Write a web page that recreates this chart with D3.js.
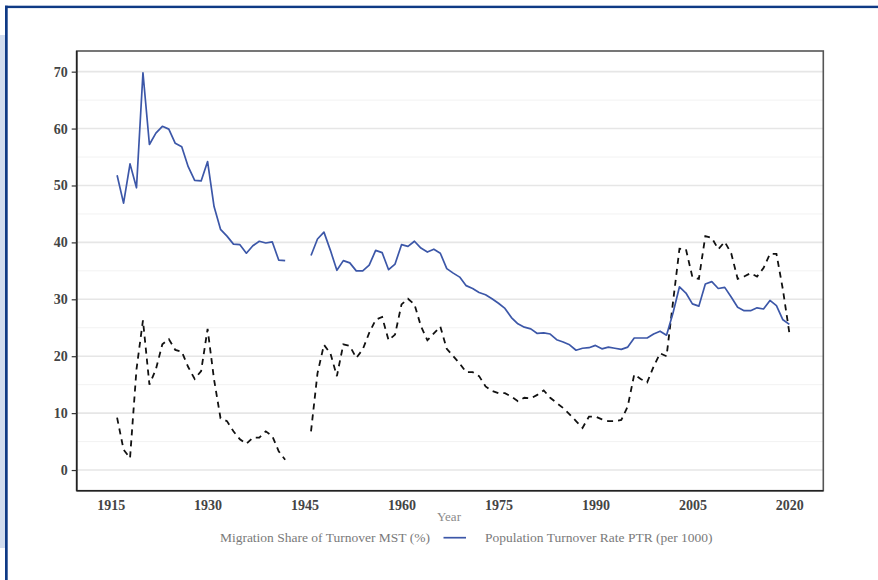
<!DOCTYPE html>
<html>
<head>
<meta charset="utf-8">
<script src="https://cdn.jsdelivr.net/npm/d3@7"></script>
<style>
  html, body { margin: 0; padding: 0; background: #fff; }
  svg { display: block; }
</style>
</head>
<body>
<svg id="chart" width="878" height="580"></svg>
<script>
// ---- data ----
const years = d3.range(1915, 2021);
// Population Turnover Rate PTR (per 1000); null = missing
const ptr = [
  null, 51.8, 46.9, 53.8, 49.6, 69.8, 57.2, 59.2, 60.4, 59.9,   // 1915-1924
  57.4, 56.8, 53.3, 50.9, 50.8, 54.2, 46.3, 42.3, 41.1, 39.7,   // 1925-1934
  39.6, 38.1, 39.4, 40.2, 39.9, 40.1, 36.9, 36.8, null, null,   // 1935-1944
  null, 37.7, 40.6, 41.8, 38.6, 35.1, 36.8, 36.4, 35.0, 35.0,   // 1945-1954
  36.0, 38.6, 38.2, 35.2, 36.2, 39.6, 39.3, 40.2, 39.0, 38.3,   // 1955-1964
  38.8, 38.1, 35.4, 34.6, 33.9, 32.4, 31.9, 31.2, 30.8, 30.1,   // 1965-1974
  29.3, 28.4, 26.8, 25.7, 25.1, 24.8, 24.0, 24.1, 23.9, 22.9,   // 1975-1984
  22.5, 22.0, 21.05, 21.4, 21.5, 21.9, 21.3, 21.6, 21.4, 21.2, // 1985-1994
  21.6, 23.2, 23.2, 23.2, 23.9, 24.4, 23.7, 27.6, 32.2, 31.1,   // 1995-2004
  29.2, 28.8, 32.7, 33.1, 31.9, 32.1, 30.4, 28.6, 28.0, 28.0,   // 2005-2014
  28.5, 28.3, 29.8, 28.9, 26.4, 25.6                            // 2015-2020
];
// Migration Share of Turnover MST (%)
const mst = [
  null, 9.2, 3.6, 2.1, 17.7, 26.3, 15.0, 17.7, 22.1, 23.0,      // 1915-1924
  21.1, 20.8, 18.1, 16.0, 17.4, 24.8, 15.9, 9.1, 8.6, 6.8,      // 1925-1934
  5.4, 4.6, 5.7, 5.7, 6.8, 6.0, 3.3, 1.8, null, null,           // 1935-1944
  null, 6.8, 17.0, 22.0, 20.5, 16.5, 22.1, 21.8, 19.7, 21.2,    // 1945-1954
  24.1, 26.4, 26.9, 22.8, 23.8, 29.1, 30.1, 29.1, 25.3, 22.8,   // 1955-1964
  24.0, 25.2, 21.3, 20.0, 18.7, 17.2, 17.2, 16.5, 14.7, 13.9,   // 1965-1974
  13.5, 13.5, 12.9, 12.1, 12.7, 12.6, 13.2, 14.0, 12.7, 11.8,   // 1975-1984
  10.9, 9.8, 8.6, 7.4, 9.4, 9.4, 8.9, 8.6, 8.6, 8.8,            // 1985-1994
  11.2, 16.8, 16.0, 15.4, 18.2, 20.5, 20.0, 29.5, 38.9, 38.8,   // 1995-2004
  33.9, 33.6, 41.1, 40.8, 38.8, 40.1, 38.1, 33.6, 34.0, 34.6,   // 2005-2014
  34.0, 35.5, 38.0, 38.0, 31.7, 24.1                            // 2015-2020
];
const xTicks = [1915, 1930, 1945, 1960, 1975, 1990, 2005, 2020];
const yTicks = [0, 10, 20, 30, 40, 50, 60, 70];
const yMinor = [5, 15, 25, 35, 45, 55, 65];
const seriesNames = ["Migration Share of Turnover MST (%)", "Population Turnover Rate PTR (per 1000)"];
const xTitle = "Year";

// ---- layout ----
const svg = d3.select("#chart");
const panel = { left: 76.7, right: 823.3, top: 51, bottom: 490.7 };
const serif = "'Liberation Serif', 'DejaVu Serif', serif";

// decorative frame
svg.append("rect").attr("x", 0).attr("y", 35).attr("width", 5).attr("height", 513).attr("fill", "#d2ddef");
svg.append("rect").attr("x", 5).attr("y", 5.7).attr("width", 880).attr("height", 2.4).attr("fill", "#0f3a85");
svg.append("rect").attr("x", 5).attr("y", 5.7).attr("width", 2.7).attr("height", 580).attr("fill", "#0f3a85");

const x = d3.scaleLinear().domain([1909.75, 2025.25]).range([panel.left, panel.right]);
const y = d3.scaleLinear().domain([-3.63, 73.63]).range([panel.bottom, panel.top]);

const g = svg.append("g");
// minor grid
g.selectAll(".minor").data(yMinor).enter().append("line")
  .attr("x1", panel.left).attr("x2", panel.right)
  .attr("y1", d => y(d)).attr("y2", d => y(d))
  .attr("stroke", "#f2f2f2").attr("stroke-width", 1);
// major grid
g.selectAll(".major").data(yTicks).enter().append("line")
  .attr("x1", panel.left).attr("x2", panel.right)
  .attr("y1", d => y(d)).attr("y2", d => y(d))
  .attr("stroke", "#e6e6e6").attr("stroke-width", 1.6);

// lines
const line = d3.line()
  .defined(d => d[1] !== null)
  .x(d => x(d[0])).y(d => y(d[1]));

g.append("path")
  .datum(years.map((yr, i) => [yr, mst[i]]))
  .attr("d", line).attr("fill", "none")
  .attr("stroke", "#111").attr("stroke-width", 1.8)
  .attr("stroke-dasharray", "6,5");

g.append("path")
  .datum(years.map((yr, i) => [yr, ptr[i]]))
  .attr("d", line).attr("fill", "none")
  .attr("stroke", "#3c57a8").attr("stroke-width", 1.7)
  .attr("stroke-linejoin", "round");

// panel border
svg.append("rect")
  .attr("x", panel.left).attr("y", panel.top)
  .attr("width", panel.right - panel.left).attr("height", panel.bottom - panel.top)
  .attr("fill", "none").attr("stroke", "#555").attr("stroke-width", 1.6);
svg.append("line").attr("x1", panel.left).attr("x2", panel.left)
  .attr("y1", panel.top).attr("y2", panel.bottom).attr("stroke", "#222").attr("stroke-width", 1.6);
svg.append("line").attr("x1", panel.left).attr("x2", panel.right)
  .attr("y1", panel.bottom).attr("y2", panel.bottom).attr("stroke", "#222").attr("stroke-width", 1.6);

// y axis
const yAxis = d3.axisLeft(y).tickValues(yTicks).tickSize(5).tickPadding(4);
const ya = svg.append("g").attr("transform", `translate(${panel.left},0)`).call(yAxis);
ya.attr("font-family", serif).attr("font-size", 14);
ya.select(".domain").remove();
ya.selectAll(".tick line").attr("stroke", "#333").attr("stroke-width", 1.2);
ya.selectAll(".tick text")
  .attr("font-family", serif)
  .attr("font-weight", "bold").attr("font-size", 14).attr("fill", "#444");

// x axis
const xAxis = d3.axisBottom(x).tickValues(xTicks).tickFormat(d3.format("d")).tickSize(0).tickPadding(9);
const xa = svg.append("g").attr("transform", `translate(0,${panel.bottom})`).call(xAxis);
xa.attr("font-family", serif).attr("font-size", 14);
xa.select(".domain").remove();
xa.selectAll(".tick text")
  .attr("font-family", serif)
  .attr("font-weight", "bold").attr("font-size", 14).attr("fill", "#444");

// x title
svg.append("text").attr("x", 449).attr("y", 521).attr("text-anchor", "middle")
  .attr("font-family", serif)
  .attr("font-size", 13).attr("fill", "#8a8a8a").text(xTitle);

// legend
const lg = svg.append("g");
lg.append("text").attr("x", 430).attr("y", 542).attr("text-anchor", "end")
  .attr("font-family", serif)
  .attr("font-size", 13.5).attr("fill", "#7a7a7a").text(seriesNames[0]);
lg.append("line").attr("x1", 443.5).attr("x2", 466).attr("y1", 537.7).attr("y2", 537.7)
  .attr("stroke", "#3c57a8").attr("stroke-width", 1.7);
lg.append("text").attr("x", 485).attr("y", 542)
  .attr("font-family", serif)
  .attr("font-size", 13.5).attr("fill", "#7a7a7a").text(seriesNames[1]);
</script>
</body>
</html>
